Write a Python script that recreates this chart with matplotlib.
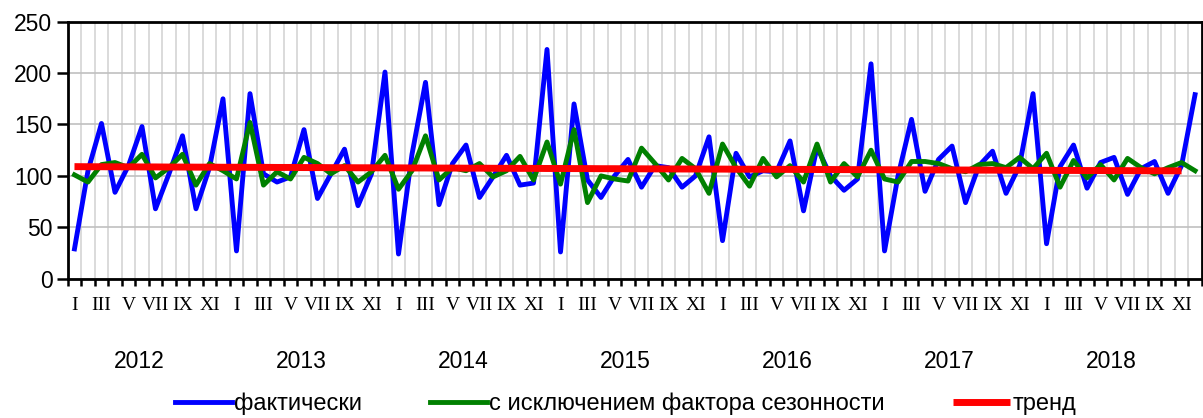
import matplotlib
matplotlib.use("Agg")
import matplotlib.pyplot as plt
import matplotlib.transforms as mtransforms

plt.rcParams['font.family'] = ['Liberation Sans', 'DejaVu Sans']

years = ["2012", "2013", "2014", "2015", "2016", "2017", "2018"]
months = ["I", "II", "III", "IV", "V", "VI", "VII", "VIII", "IX", "X", "XI", "XII"]

# фактически
fact = [29, 105, 151, 84, 110, 148, 68, 102, 139, 68, 108, 175,
        27, 180, 102, 94, 99, 145, 78, 102, 126, 71, 102, 201,
        24, 121, 191, 72, 112, 130, 79, 99, 120, 91, 93, 223,
        26, 170, 96, 79, 100, 116, 89, 110, 108, 89, 100, 138,
        37, 122, 99, 105, 104, 134, 66, 128, 100, 86, 97, 209,
        27, 100, 155, 85, 116, 129, 74, 110, 124, 83, 110, 180,
        34, 109, 130, 88, 113, 118, 82, 107, 114, 83, 110, 179]

# с исключением фактора сезонности
seas = [101, 94, 111, 113, 108, 121, 98, 108, 121, 91, 112, 105,
        97, 152, 91, 104, 97, 118, 112, 102, 110, 94, 104, 120,
        87, 105, 139, 96, 108, 105, 112, 99, 105, 119, 96, 133,
        92, 145, 74, 100, 97, 95, 127, 112, 96, 117, 107, 83,
        131, 108, 90, 117, 99, 110, 94, 131, 94, 112, 99, 125,
        97, 94, 114, 114, 112, 107, 104, 111, 112, 108, 118, 107,
        122, 89, 115, 98, 111, 96, 117, 108, 102, 108, 113, 105]

# тренд (ends at Nov 2018)
trend = [109.0, 108.9, 108.9, 108.8, 108.8, 108.7, 108.7, 108.6, 108.6, 108.5,
         108.5, 108.4, 108.4, 108.3, 108.3, 108.2, 108.2, 108.1, 108.1, 108.0,
         108.0, 107.9, 107.9, 107.8, 107.8, 107.7, 107.7, 107.6, 107.6, 107.5,
         107.5, 107.4, 107.4, 107.3, 107.3, 107.2, 107.2, 107.1, 107.1, 107.0,
         107.0, 106.9, 106.9, 106.8, 106.8, 106.7, 106.7, 106.6, 106.6, 106.5,
         106.5, 106.4, 106.4, 106.3, 106.3, 106.2, 106.2, 106.1, 106.1, 106.0,
         106.0, 105.9, 105.9, 105.8, 105.8, 105.7, 105.7, 105.6, 105.6, 105.5,
         105.5, 105.4, 105.4, 105.3, 105.3, 105.2, 105.2, 105.1, 105.1, 105.0,
         105.0, 104.9, 104.9]

n = len(fact)
x = list(range(n))

fig = plt.figure(figsize=(12.03, 4.18), dpi=100)
ax = fig.add_axes([0.0563, 0.3333, 0.9427, 0.6148])

ax.plot(x, fact, color="#0000ff", lw=3.5, label="фактически")
ax.plot(x, seas, color="#008000", lw=3.5, label="с исключением фактора сезонности")
ax.plot(x[:len(trend)], trend, color="#ff0000", lw=5, label="тренд",
        solid_capstyle="butt")

ax.set_xlim(-0.5, n - 0.5)
ax.set_ylim(0, 250)
ax.set_yticks(range(0, 251, 50))
ax.set_xticks([i - 0.5 for i in range(n + 1)])
ax.set_xticklabels([])
ax.grid(True, axis="y", color="#c0c0c0", lw=1.2)
ax.grid(True, axis="x", color="#d4d4d4", lw=1.2)
ax.set_axisbelow(True)
ax.tick_params(axis="x", direction="out", length=5, width=1.8, color="black")
ax.tick_params(axis="y", direction="out", length=8, width=1.8, labelsize=16.5, pad=3)
for s in ax.spines.values():
    s.set_linewidth(2)
    s.set_color("black")

trans = mtransforms.blended_transform_factory(ax.transData, fig.transFigure)
for i in range(0, n, 2):
    ax.text(i, 1 - 306 / 418, months[i % 12], transform=trans, ha="center", va="center",
            fontsize=14, family="Liberation Serif")
for k, y in enumerate(years):
    ax.text(12 * k + 4.8, 1 - 362 / 418, y, transform=trans, ha="center", va="center",
            fontsize=16.5)

fig.legend(loc="center", bbox_to_anchor=(0.52, 1 - 404 / 418), ncol=3, frameon=False,
           fontsize=17, handlelength=2.4, handletextpad=0.1, columnspacing=2.9,
           borderaxespad=0)

fig.savefig("out.png", dpi=100)
